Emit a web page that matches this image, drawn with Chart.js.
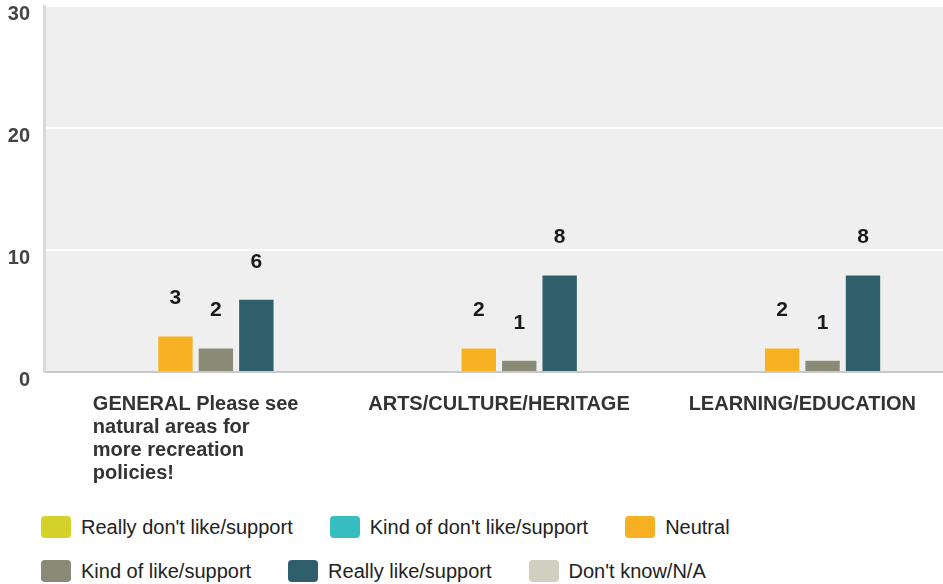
<!DOCTYPE html>
<html>
<head>
<meta charset="utf-8">
<script src="https://cdn.jsdelivr.net/npm/chart.js@4"></script>
<style>
  body { margin:0; background:#fff; overflow:hidden; width:943px; height:584px; position:relative;
         font-family:"Liberation Sans", Arial, sans-serif; }
  #wrap { position:absolute; left:0; top:0; width:954px; height:500px; }
  .legend { position:absolute; left:41px; display:flex; align-items:center; gap:37px; font-size:20px; color:#222; height:22px; }
  .item { display:flex; align-items:center; white-space:nowrap; }
  .sw { width:30px; height:22px; border-radius:4px; margin-right:10px; }
</style>
</head>
<body>
<div id="wrap"><canvas id="chart" width="954" height="500"></canvas></div>
<div class="legend" id="row1" style="top:516px"></div>
<div class="legend" id="row2" style="top:560px"></div>
<script>
// categories (multi-line label kept as lines)
const categories = [
  ['GENERAL Please see', 'natural areas for', 'more recreation', 'policies!'],
  'ARTS/CULTURE/HERITAGE',
  'LEARNING/EDUCATION'
];
const seriesNames = ["Really don't like/support", "Kind of don't like/support", 'Neutral',
                     'Kind of like/support', 'Really like/support', "Don't know/N/A"];
const reallyDont = [0, 0, 0];
const kindDont   = [0, 0, 0];
const neutral    = [3, 2, 2];
const kindLike   = [2, 1, 1];
const reallyLike = [6, 8, 8];
const dontKnow   = [0, 0, 0];
const yTicks = [0, 10, 20, 30];

const colors = ['#d4d22a', '#35bdbf', '#f6b021', '#8a8a77', '#2f5f6b', '#d0cfc0'];
const seriesData = [reallyDont, kindDont, neutral, kindLike, reallyLike, dontKnow];

// html legend, two rows of three
seriesNames.forEach((name, i) => {
  const it = document.createElement('div');
  it.className = 'item';
  it.innerHTML = '<span class="sw" style="background:' + colors[i] + '"></span><span></span>';
  it.lastChild.textContent = name;
  document.getElementById(i < 3 ? 'row1' : 'row2').appendChild(it);
});

const plotBg = {
  id: 'plotBg',
  beforeDraw(chart) {
    const {ctx, chartArea: a} = chart;
    ctx.save();
    ctx.fillStyle = '#efefef';
    ctx.fillRect(a.left, a.top, a.right - a.left, a.bottom - a.top);
    ctx.restore();
  }
};

// value labels sit well above each bar
const valueLabels = {
  id: 'valueLabels',
  afterDatasetsDraw(chart) {
    const ctx = chart.ctx;
    ctx.save();
    ctx.font = 'bold 21px "Liberation Sans", Arial, sans-serif';
    ctx.fillStyle = '#1a1a1a';
    ctx.textAlign = 'center';
    ctx.textBaseline = 'middle';
    chart.data.datasets.forEach((ds, i) => {
      chart.getDatasetMeta(i).data.forEach((bar, j) => {
        if (ds.data[j] > 0) ctx.fillText(ds.data[j], bar.x, bar.y - 37);
      });
    });
    ctx.restore();
  }
};

// category labels: block centred on category, lines left aligned
const catLabels = {
  id: 'catLabels',
  afterDraw(chart) {
    const ctx = chart.ctx, xs = chart.scales.x;
    ctx.save();
    ctx.font = 'bold 20px "Liberation Sans", Arial, sans-serif';
    ctx.fillStyle = '#333';
    ctx.textAlign = 'left';
    ctx.textBaseline = 'middle';
    categories.forEach((c, i) => {
      const lines = Array.isArray(c) ? c : [c];
      const w = Math.max(...lines.map(l => ctx.measureText(l).width));
      const x0 = xs.getPixelForValue(i) - w / 2;
      lines.forEach((l, k) => ctx.fillText(l, x0, 404 + k * 23));
    });
    ctx.restore();
  }
};

new Chart(document.getElementById('chart').getContext('2d'), {
  type: 'bar',
  data: {
    labels: categories.map(c => Array.isArray(c) ? c.join(' ') : c),
    datasets: seriesNames.map((name, i) => ({
      label: name,
      data: seriesData[i],
      backgroundColor: colors[i],
      borderColor: 'rgba(255,255,255,0.35)',
      borderWidth: 1,
      categoryPercentage: 0.8,
      barPercentage: 0.9
    }))
  },
  options: {
    responsive: false,
    animation: false,
    layout: { padding: { top: 6, right: 0, left: 0, bottom: 0 } },
    plugins: { legend: { display: false }, tooltip: { enabled: false } },
    scales: {
      x: {
        grid: { display: false },
        border: { display: true, color: '#c9c9c9', width: 2 },
        ticks: { display: false },
        afterFit(s) { s.height = 128; s.paddingLeft = 0; s.paddingRight = 0; }
      },
      y: {
        min: 0, max: 30,
        afterBuildTicks(s) { s.ticks = yTicks.map(v => ({ value: v })); },
        grid: {
          color: c => (c.tick && c.tick.value === 0) ? 'rgba(0,0,0,0)' : '#ffffff',
          lineWidth: 2,
          drawTicks: false
        },
        border: { display: true, color: '#d9d9d9', width: 3 },
        ticks: {
          padding: 14,
          labelOffset: 8,
          color: '#444',
          font: { family: '"Liberation Sans", Arial, sans-serif', size: 20, weight: 'bold' }
        },
        afterFit(s) { s.width = 44; s.paddingTop = 0; s.paddingBottom = 0; }
      }
    }
  },
  plugins: [plotBg, valueLabels, catLabels]
});
</script>
</body>
</html>
